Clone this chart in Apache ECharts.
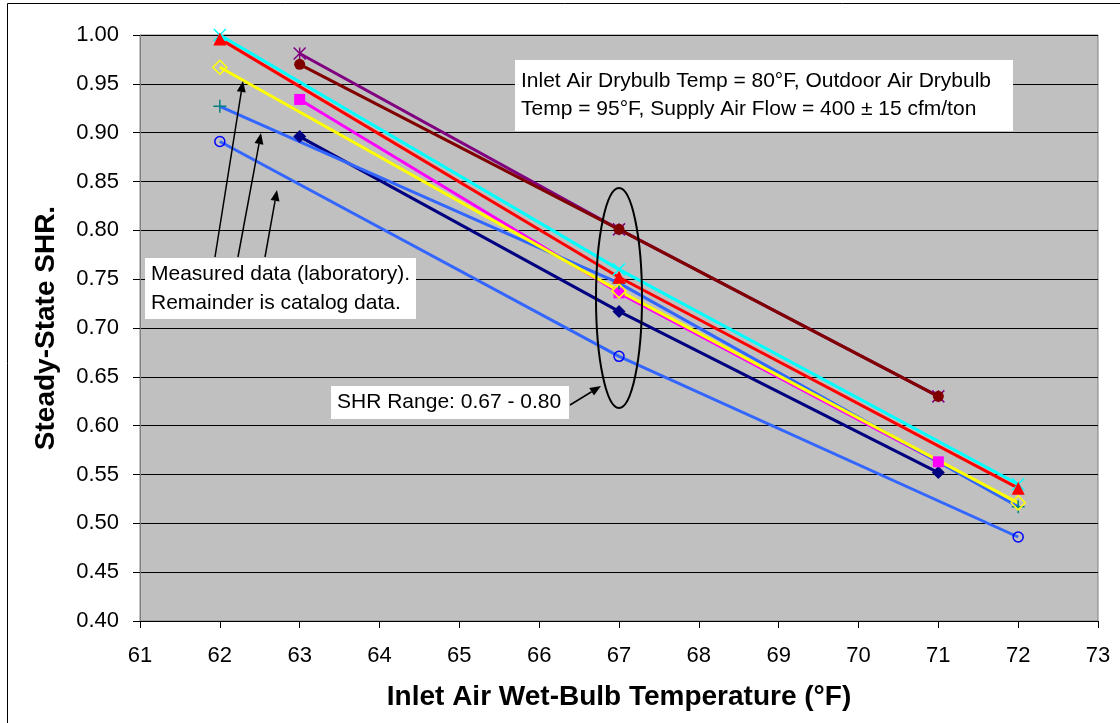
<!DOCTYPE html>
<html>
<head>
<meta charset="utf-8">
<script src="https://cdn.jsdelivr.net/npm/echarts@6/dist/echarts.min.js"></script>
<style>
html,body{margin:0;padding:0;background:#fff;}
#chart{width:1120px;height:723px;}
</style>
</head>
<body>
<div id="chart"></div>
<script>
// Inlet air wet-bulb temperatures (°F)
const measuredX = [62, 67, 72];
const catalogX = [63, 67, 71];
// Measured (laboratory) series
const cyanVals = [1.000, 0.760, 0.540];
const redVals = [0.996, 0.752, 0.536];
const yellowVals = [0.967, 0.738, 0.521];
const plusVals = [0.927, 0.746, 0.517];
const circleVals = [0.891, 0.671, 0.486];
// Catalog series
const purpleVals = [0.981, 0.801, 0.630];
const maroonVals = [0.970, 0.801, 0.630];
const magentaVals = [0.934, 0.736, 0.563];
const navyVals = [0.896, 0.717, 0.552];
// Axis ticks
const xMin = 61, xMax = 73, xStep = 1;
const yMin = 0.40, yMax = 1.00, yStep = 0.05;

const FONT = "'Liberation Sans', Arial, sans-serif";
const pair = (xs, ys) => xs.map((x, i) => [x, ys[i]]);

const X_PATH = 'path://M0,0L10,10M0,10L10,0';
const PLUS_PATH = 'path://M5,0L5,10M0,5L10,5';
const STAR_PATH = 'path://M5,0L5,10M0,0L10,10M0,10L10,0';

function mk(name, xs, ys, lineColor, symbol, size, fill, stroke, bw) {
  return {
    name, type: 'line', data: pair(xs, ys), clip: false,
    symbol, symbolSize: size, showSymbol: true,
    lineStyle: { color: lineColor, width: 3 },
    itemStyle: { color: fill, borderColor: stroke, borderWidth: bw },
    emphasis: { disabled: true }, z: 3
  };
}

const series = [
  mk('circle', measuredX, circleVals, '#3366FF', 'circle', 10, 'rgba(0,0,0,0)', '#0000FF', 1.5),
  mk('navy', catalogX, navyVals, '#000080', 'diamond', 13, '#000080', '#000080', 0),
  mk('magenta', catalogX, magentaVals, '#FF00FF', 'rect', 11, '#FF00FF', '#FF00FF', 0),
  mk('plus', measuredX, plusVals, '#3366FF', PLUS_PATH, 13, 'rgba(0,0,0,0)', '#008080', 1.5),
  mk('yellow', measuredX, yellowVals, '#FFFF00', 'diamond', 14, 'rgba(0,0,0,0)', '#FFFF00', 1.5),
  mk('cyan', measuredX, cyanVals, '#00FFFF', X_PATH, 12, 'rgba(0,0,0,0)', '#00FFFF', 1.5),
  mk('red', measuredX, redVals, '#FF0000', 'triangle', 13, '#FF0000', '#FF0000', 0),
  mk('purple', catalogX, purpleVals, '#800080', STAR_PATH, 12, 'rgba(0,0,0,0)', '#800080', 1.5),
  mk('maroon', catalogX, maroonVals, '#800000', 'circle', 11, '#800000', '#800000', 0)
];

function arrow(x1, y1, x2, y2) {
  const ang = Math.atan2(y2 - y1, x2 - x1);
  const L = 11, W = 4.5;
  const bx = x2 - L * Math.cos(ang), by = y2 - L * Math.sin(ang);
  const px = -Math.sin(ang) * W, py = Math.cos(ang) * W;
  return [
    { type: 'line', shape: { x1, y1, x2: bx, y2: by }, style: { stroke: '#000', lineWidth: 1.5 }, z: 20 },
    { type: 'polygon', shape: { points: [[x2, y2], [bx + px, by + py], [bx - px, by - py]] }, style: { fill: '#000' }, z: 20 }
  ];
}

function box(x, y, w, h, lines, fontSize, lh) {
  return [
    { type: 'rect', shape: { x, y, width: w, height: h }, style: { fill: '#fff' }, z: 21 },
    { type: 'text', x: x + 6, y: y + h / 2, z: 22,
      style: { text: lines.join('\n'), font: fontSize + 'px ' + FONT, fill: '#000', lineHeight: lh, verticalAlign: 'middle', align: 'left' } }
  ];
}

const graphics = [
  { type: 'rect', shape: { x: 7.5, y: 3.5, width: 1130, height: 740 }, style: { fill: 'none', stroke: '#000', lineWidth: 1 }, z: 0 },
  ...arrow(215, 257, 243, 81),
  ...arrow(238, 257, 261, 133),
  ...arrow(265, 257, 277, 190),
  ...box(145, 258, 271, 61, ['Measured data (laboratory).', 'Remainder is catalog data.'], 21, 29),
  ...box(515, 60, 498, 71, ['Inlet Air Drybulb Temp = 80°F, Outdoor Air Drybulb', 'Temp = 95°F, Supply Air Flow = 400 ± 15 cfm/ton'], 21, 28),
  ...box(331, 386, 238, 33, ['SHR Range: 0.67 - 0.80'], 21, 24),
  ...arrow(570, 405, 601, 386),
  { type: 'ellipse', shape: { cx: 619, cy: 298, rx: 23, ry: 110 }, style: { fill: 'none', stroke: '#000', lineWidth: 2 }, z: 20 }
];

const chart = echarts.init(document.getElementById('chart'), null, { renderer: 'canvas' });
chart.setOption({
  animation: false,
  backgroundColor: '#fff',
  textStyle: { fontFamily: FONT },
  grid: { left: 140, top: 35, width: 958, height: 586, show: true, backgroundColor: '#C0C0C0', borderColor: '#808080', borderWidth: 1 },
  xAxis: {
    type: 'value', min: xMin, max: xMax, interval: xStep,
    name: 'Inlet Air Wet-Bulb Temperature (°F)', nameLocation: 'middle', nameGap: 62,
    nameTextStyle: { fontSize: 28, fontWeight: 'bold', color: '#000', fontFamily: FONT },
    axisLine: { show: true, lineStyle: { color: '#000', width: 1 } },
    axisTick: { show: true, length: 7, lineStyle: { color: '#000' } },
    axisLabel: { fontSize: 22, color: '#000', margin: 24, fontFamily: FONT },
    splitLine: { show: false }
  },
  yAxis: {
    type: 'value', min: yMin, max: yMax, interval: yStep,
    name: 'Steady-State SHR.', nameLocation: 'middle', nameGap: 80,
    nameTextStyle: { fontSize: 28, fontWeight: 'bold', color: '#000', fontFamily: FONT },
    axisLine: { show: true, lineStyle: { color: '#808080', width: 1 } },
    axisTick: { show: true, length: 7, lineStyle: { color: '#000' } },
    axisLabel: { fontSize: 22, color: '#000', margin: 21, fontFamily: FONT, formatter: v => v.toFixed(2) },
    splitLine: { show: true, lineStyle: { color: '#000', width: 1 } }
  },
  series,
  graphic: graphics
});
</script>
</body>
</html>
